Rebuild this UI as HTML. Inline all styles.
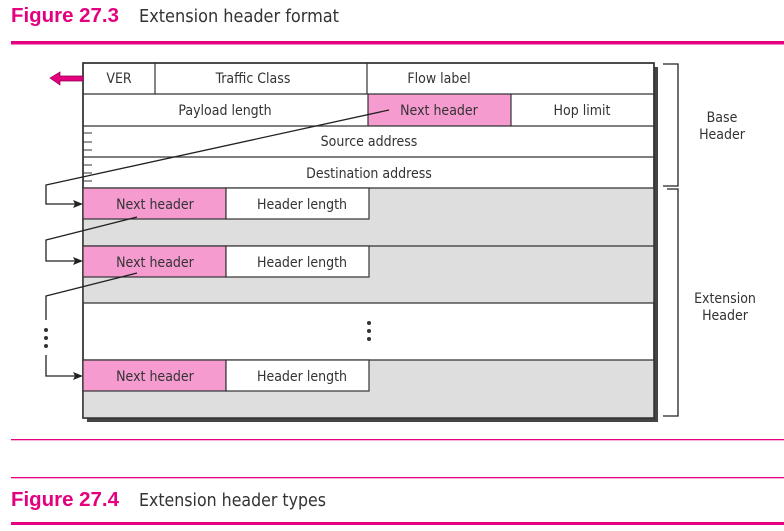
<!DOCTYPE html>
<html><head><style>
body{margin:0;width:784px;height:527px;background:#fff;overflow:hidden;font-family:"DejaVu Sans Condensed","Liberation Sans",sans-serif;}
</style></head><body>
<svg width="784" height="527" xmlns="http://www.w3.org/2000/svg" font-family="DejaVu Sans Condensed, Liberation Sans, sans-serif">
<text x="11" y="22" font-size="20" font-weight="bold" fill="#e4007f" font-family="Liberation Sans, sans-serif" textLength="108" lengthAdjust="spacingAndGlyphs">Figure 27.3</text>
<text x="139" y="22" font-size="18" fill="#333" textLength="200" lengthAdjust="spacingAndGlyphs">Extension header format</text>
<rect x="11" y="41" width="773" height="3.5" fill="#e4007f"/>
<rect x="87" y="67" width="571" height="355" fill="#444"/>
<rect x="83" y="63" width="571" height="355" fill="#fff" stroke="#333" stroke-width="1.5"/>
<rect x="83" y="188" width="571" height="115" fill="#dedede"/>
<rect x="83" y="360" width="571" height="58" fill="#dedede"/>
<rect x="368" y="94" width="143" height="32" fill="#f59bd0"/>
<g stroke="#333" stroke-width="1.2" fill="none">
<line x1="83" y1="94" x2="654" y2="94"/><line x1="83" y1="126" x2="654" y2="126"/>
<line x1="83" y1="157" x2="654" y2="157"/><line x1="83" y1="188" x2="654" y2="188"/>
<line x1="83" y1="246" x2="654" y2="246"/><line x1="83" y1="303" x2="654" y2="303"/>
<line x1="83" y1="360" x2="654" y2="360"/>
<line x1="155" y1="63" x2="155" y2="94"/><line x1="367" y1="63" x2="367" y2="94"/>
<line x1="368" y1="94" x2="368" y2="126"/><line x1="511" y1="94" x2="511" y2="126"/>
<rect x="83" y="63" width="571" height="355" stroke-width="1.5"/>
</g>
<g stroke="#333" stroke-width="1">
<line x1="83" y1="133" x2="92" y2="133"/><line x1="83" y1="142" x2="92" y2="142"/><line x1="83" y1="150" x2="92" y2="150"/>
<line x1="83" y1="165" x2="92" y2="165"/><line x1="83" y1="173" x2="92" y2="173"/><line x1="83" y1="181" x2="92" y2="181"/>
</g>
<g stroke="#333" stroke-width="1.2">
<rect x="83" y="188" width="143" height="31" fill="#f59bd0"/><rect x="226" y="188" width="143" height="31" fill="#fff"/>
<rect x="83" y="246" width="143" height="31" fill="#f59bd0"/><rect x="226" y="246" width="143" height="31" fill="#fff"/>
<rect x="83" y="360" width="143" height="31" fill="#f59bd0"/><rect x="226" y="360" width="143" height="31" fill="#fff"/>
</g>
<g font-size="14" fill="#333" text-anchor="middle">
<text x="119" y="83">VER</text><text x="253" y="83">Traffic Class</text><text x="439" y="83">Flow label</text>
<text x="225" y="115">Payload length</text><text x="439" y="115">Next header</text><text x="582" y="115">Hop limit</text>
<text x="369" y="146">Source address</text><text x="369" y="178">Destination address</text>
<text x="155" y="209">Next header</text><text x="302" y="209">Header length</text>
<text x="155" y="267">Next header</text><text x="302" y="267">Header length</text>
<text x="155" y="381">Next header</text><text x="302" y="381">Header length</text>
<text x="722" y="122">Base</text><text x="722" y="139">Header</text>
<text x="725" y="303">Extension</text><text x="725" y="320">Header</text>
</g>
<g fill="#333">
<circle cx="369" cy="323" r="2"/><circle cx="369" cy="331" r="2"/><circle cx="369" cy="339" r="2"/>
<circle cx="46" cy="330" r="2"/><circle cx="46" cy="338" r="2"/><circle cx="46" cy="346" r="2"/>
</g>
<g stroke="#222" stroke-width="1.3" fill="none">
<polyline points="389,110 46,185 46,204 78,204"/>
<polyline points="137,217 46,240 46,261 78,261"/>
<polyline points="137,273 46,296 46,320"/>
<polyline points="46,355 46,376 78,376"/>
<polyline points="663,64 678,64 678,186 663,186"/>
<polyline points="667,189 678,189 678,416 663,416"/>
</g>
<g fill="#222">
<polygon points="83,204 73,200 75,204 73,208"/>
<polygon points="83,261 73,257 75,261 73,265"/>
<polygon points="83,376 73,372 75,376 73,380"/>
</g>
<polygon points="50,78 60,72 60,76 83,76 83,81 60,81 60,85" fill="#e4007f" stroke="#8a0050" stroke-width="0.7"/>
<rect x="11" y="439" width="773" height="1.3" fill="#e4007f"/>
<rect x="11" y="477" width="773" height="1.3" fill="#e4007f"/>
<text x="11" y="506" font-size="20" font-weight="bold" fill="#e4007f" font-family="Liberation Sans, sans-serif" textLength="108" lengthAdjust="spacingAndGlyphs">Figure 27.4</text>
<text x="139" y="506" font-size="18" fill="#333" textLength="187" lengthAdjust="spacingAndGlyphs">Extension header types</text>
<rect x="11" y="522" width="773" height="3" fill="#e4007f"/>
</svg>
</body></html>
